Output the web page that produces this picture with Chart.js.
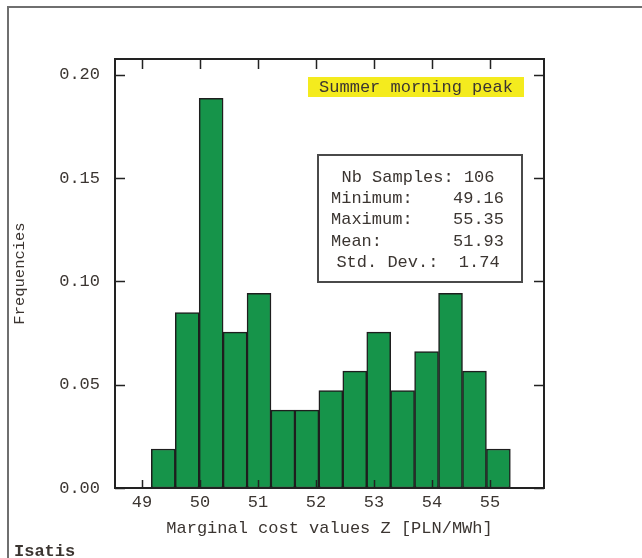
<!DOCTYPE html>
<html>
<head>
<meta charset="utf-8">
<script src="https://cdn.jsdelivr.net/npm/chart.js@4"></script>
<style>
  body { margin: 0; background: #fff; }
  canvas { display: block; }
</style>
</head>
<body>
<canvas id="histo" width="642" height="558"></canvas>
<script>
// bin edges of the histogram (16 edges -> 15 classes)
const binEdges = [49.160, 49.573, 49.985, 50.398, 50.811, 51.223, 51.636, 52.049,
                  52.461, 52.874, 53.287, 53.699, 54.112, 54.525, 54.937, 55.350];
const frequencies = [0.0189, 0.0849, 0.1887, 0.0755, 0.0943, 0.0377, 0.0377, 0.0472,
                     0.0566, 0.0755, 0.0472, 0.0660, 0.0943, 0.0566, 0.0189];
const statLabels = ['Minimum:', 'Maximum:', 'Mean:'];
const statValues = ['49.16', '55.35', '51.93'];
const nbSamples = 106;
const stdDev = '1.74';
const caseTitle = 'Summer morning peak';

const textColor = '#3b3531';
const mono = '"Liberation Mono", "DejaVu Sans Mono", monospace';

const bars = frequencies.map((f, i) => ({ x: (binEdges[i] + binEdges[i + 1]) / 2, y: f }));

const frameAndTicks = {
  id: 'frameAndTicks',
  beforeDraw(chart) {
    const ctx = chart.ctx;
    ctx.save();
    ctx.fillStyle = '#fff';
    ctx.fillRect(0, 0, chart.width, chart.height);
    ctx.strokeStyle = '#6f6f6f';
    ctx.lineWidth = 2;
    ctx.beginPath();
    ctx.moveTo(8, chart.height);
    ctx.lineTo(8, 7);
    ctx.lineTo(chart.width, 7);
    ctx.stroke();
    ctx.restore();
  },
  afterDatasetsDraw(chart) {
    const { ctx, chartArea: a, scales: { x, y } } = chart;
    ctx.save();
    ctx.strokeStyle = '#222';
    ctx.lineWidth = 2;
    ctx.strokeRect(a.left, a.top, a.right - a.left, a.bottom - a.top);

    // inward tick marks on all four sides
    ctx.lineWidth = 1.5;
    ctx.beginPath();
    x.ticks.forEach(t => {
      const px = Math.round(x.getPixelForValue(t.value)) + 0.5;
      ctx.moveTo(px, a.bottom); ctx.lineTo(px, a.bottom - 8);
      ctx.moveTo(px, a.top); ctx.lineTo(px, a.top + 10);
    });
    y.ticks.forEach(t => {
      const py = Math.round(y.getPixelForValue(t.value)) + 0.5;
      ctx.moveTo(a.left, py); ctx.lineTo(a.left + 10, py);
      ctx.moveTo(a.right, py); ctx.lineTo(a.right - 10, py);
    });
    ctx.stroke();

    ctx.font = '17px ' + mono;
    ctx.textBaseline = 'middle';
    ctx.fillStyle = textColor;

    // yellow case title
    const yl = a.left + 193, yt = a.top + 18;
    ctx.fillStyle = '#f4eb1e';
    ctx.fillRect(yl, yt, 216, 20);
    ctx.fillStyle = textColor;
    ctx.textAlign = 'center';
    ctx.fillText(caseTitle, yl + 108, yt + 10);

    // statistics box
    const bl = a.left + 203, bt = a.top + 96, bw = 204, bh = 127;
    ctx.fillStyle = '#fff';
    ctx.fillRect(bl, bt, bw, bh);
    ctx.strokeStyle = '#4a4a4a';
    ctx.lineWidth = 2;
    ctx.strokeRect(bl, bt, bw, bh);
    ctx.fillStyle = textColor;
    ctx.textAlign = 'center';
    ctx.fillText('Nb Samples: ' + nbSamples, bl + 100, bt + 22);
    statLabels.forEach((lab, i) => {
      const ly = bt + 43 + i * 21.5;
      ctx.textAlign = 'left';
      ctx.fillText(lab, bl + 13, ly);
      ctx.textAlign = 'right';
      ctx.fillText(statValues[i], bl + bw - 18, ly);
    });
    ctx.textAlign = 'center';
    ctx.fillText('Std. Dev.:  ' + stdDev, bl + 100, bt + 107);

    // software tag
    ctx.font = 'bold 17px ' + mono;
    ctx.textAlign = 'left';
    ctx.textBaseline = 'top';
    ctx.fillText('Isatis', 14, 543);
    ctx.restore();
  }
};

new Chart(document.getElementById('histo'), {
  type: 'bar',
  data: {
    datasets: [{
      label: 'Frequencies',
      data: bars,
      backgroundColor: '#16944a',
      borderColor: '#1e1e1e',
      borderWidth: 1.5,
      borderSkipped: false,
      barPercentage: 1,
      categoryPercentage: 1
    }]
  },
  options: {
    responsive: false,
    animation: false,
    devicePixelRatio: 1,
    layout: { padding: { left: 0, top: 59, right: 98, bottom: 0 } },
    plugins: { legend: { display: false }, tooltip: { enabled: false } },
    scales: {
      x: {
        type: 'linear',
        min: 48.534,
        max: 55.93,
        offset: false,
        grid: { display: false, offset: false, drawTicks: false },
        border: { display: false },
        ticks: { stepSize: 1, includeBounds: false, padding: 4, color: textColor,
                 font: { family: mono, size: 17 } },
        title: { display: true, text: 'Marginal cost values Z [PLN/MWh]', color: textColor,
                 font: { family: mono, size: 17 }, padding: { top: 0, bottom: 19 } },
        afterFit: s => { s.height = 70; }
      },
      y: {
        min: 0,
        max: 0.2077,
        grid: { display: false, drawTicks: false },
        border: { display: false },
        ticks: { stepSize: 0.05, includeBounds: false, padding: 15, color: textColor,
                 font: { family: mono, size: 17 },
                 callback: v => v.toFixed(2) },
        title: { display: true, text: 'Frequencies', color: textColor,
                 font: { family: mono, size: 15.5 }, padding: { top: 11, bottom: 0 } },
        afterFit: s => { s.width = 115; }
      }
    }
  },
  plugins: [frameAndTicks]
});
</script>
</body>
</html>
